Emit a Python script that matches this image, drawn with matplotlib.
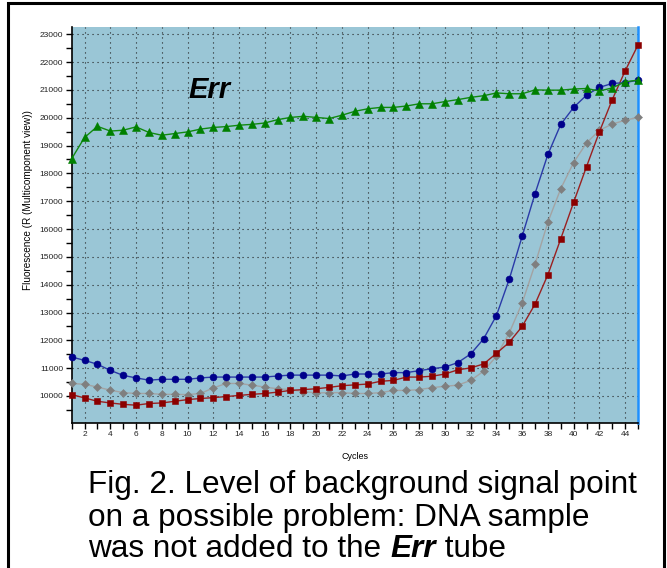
"""
Real-time PCR amplification curves (multicomponent view) with a high,
flat background curve in the Err tube.
"""

import numpy as np
import matplotlib.pyplot as plt
from matplotlib.patches import Rectangle
from matplotlib.ticker import MultipleLocator

plt.rcParams['font.family'] = ['Liberation Sans', 'DejaVu Sans']

cycles = np.arange(1, 46)

tube_blue = [11400, 11280, 11140, 10920, 10740, 10650, 10570, 10600, 10600, 10600,
             10650, 10680, 10680, 10680, 10680, 10680, 10720, 10750, 10750, 10750,
             10750, 10720, 10790, 10790, 10790, 10840, 10840, 10910, 10980, 11040,
             11200, 11510, 12050, 12890, 14200, 15740, 17270, 18680, 19760, 20370,
             20810, 21090, 21230, 21260, 21350]

tube_gray = [10450, 10420, 10320, 10210, 10120, 10090, 10090, 10060, 10060, 10050,
             10090, 10290, 10450, 10450, 10390, 10320, 10260, 10230, 10160, 10110,
             10120, 10120, 10090, 10090, 10120, 10200, 10200, 10230, 10300, 10350,
             10390, 10560, 10890, 11430, 12270, 13340, 14730, 16250, 17450, 18390,
             19090, 19550, 19770, 19910, 20010]

tube_red = [10050, 9930, 9810, 9750, 9700, 9670, 9730, 9750, 9810, 9870,
            9910, 9940, 9980, 10020, 10060, 10090, 10140, 10200, 10230, 10260,
            10310, 10370, 10400, 10430, 10530, 10560, 10680, 10680, 10710, 10790,
            10940, 11010, 11150, 11530, 11930, 12500, 13300, 14360, 15650, 16960,
            18240, 19490, 20650, 21680, 22610]

tube_err = [18530, 19290, 19690, 19520, 19550, 19670, 19470, 19370, 19430, 19490,
            19590, 19650, 19680, 19730, 19760, 19810, 19930, 20010, 20050, 20010,
            19970, 20090, 20230, 20320, 20370, 20370, 20420, 20500, 20500, 20580,
            20650, 20730, 20790, 20890, 20860, 20860, 21000, 20990, 20990, 21030,
            21050, 20960, 21070, 21290, 21350]

fig = plt.figure(figsize=(6.67, 5.68), dpi=100)
ax = fig.add_axes([0.1075, 0.2553, 0.849, 0.6972])
ax.set_facecolor('#9ac6d6')

# curves: (values, line colour, marker colour, marker, size)
curves = [
    (tube_gray, '#a3a3a3', '#7f7f7f', 'D', 4.4),
    (tube_red, '#9a2020', '#8b0000', 's', 4.6),
    (tube_blue, '#2a3aa8', '#00008b', 'o', 5.0),
    (tube_err, '#108a10', '#008000', '^', 5.2),
]
for vals, lc, mc, mk, ms in curves:
    ax.plot(cycles, vals, color=lc, lw=1.0, marker=mk, ms=ms,
            markerfacecolor=mc, markeredgecolor=mc, markeredgewidth=0.4,
            clip_on=False, zorder=3)

ax.set_xlim(1, 45)
ax.set_ylim(9030, 23260)

ax.xaxis.set_major_locator(MultipleLocator(2))
ax.xaxis.set_minor_locator(MultipleLocator(1))
ax.yaxis.set_major_locator(MultipleLocator(1000))
ax.yaxis.set_minor_locator(MultipleLocator(500))
ax.tick_params(which='both', direction='out', length=4, width=1,
               labelsize=6, pad=2, color='black', labelcolor='#222222')

ax.grid(which='major', color='#222222', lw=0.8, linestyle=(0, (1, 3.5)))
ax.set_axisbelow(True)

ax.spines['top'].set_visible(False)
ax.spines['right'].set_color('#1e90ff')
ax.spines['right'].set_linewidth(1.8)
ax.spines['left'].set_linewidth(1.2)
ax.spines['bottom'].set_linewidth(1.2)

ax.set_xlabel('Cycles', fontsize=6.5)
ax.xaxis.set_label_coords(0.5, -0.073)
ax.set_ylabel('Fluorescence (R (Multicomponent view))', fontsize=7.2)
ax.yaxis.set_label_coords(-0.068, 0.563)

ax.text(10.1, 21000, 'Err', fontsize=21, fontweight='bold', style='italic',
        ha='left', va='center')

# caption below the chart, third line has the tube name in bold italic
cap_size = 22.7
cap_x = 0.1324
fig.text(cap_x, 0.1326, 'Fig. 2. Level of background signal point',
         fontsize=cap_size, va='baseline')
fig.text(cap_x, 0.0739, 'on a possible problem: DNA sample',
         fontsize=cap_size, va='baseline')
fig.canvas.draw()
renderer = fig.canvas.get_renderer()
x = cap_x
for part, kw in [('was not added to the ', {}),
                 ('Err', {'fontweight': 'bold', 'style': 'italic'}),
                 (' tube', {})]:
    t = fig.text(x, 0.0188, part, fontsize=cap_size, va='baseline', **kw)
    bb = t.get_window_extent(renderer)
    x = x + bb.width / fig.bbox.width

# frame around the whole figure
fig.patches.append(Rectangle((8 / 667, -0.05), 656 / 667, 1.05 - 3 / 568,
                             transform=fig.transFigure, fill=False,
                             edgecolor='black', lw=2.2))

fig.savefig('out.png', dpi=100)
